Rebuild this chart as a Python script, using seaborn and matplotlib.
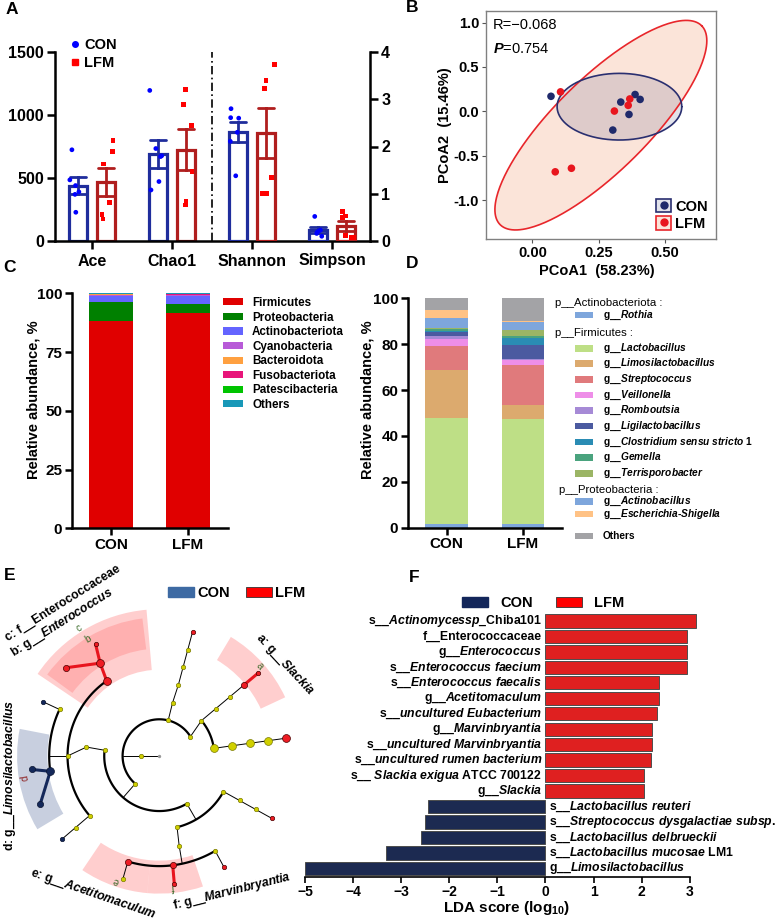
import numpy as np
import pandas as pd
import matplotlib
matplotlib.use('Agg')
import matplotlib.pyplot as plt
import seaborn as sns
from matplotlib.patches import Patch, Rectangle
from matplotlib.lines import Line2D

# ---------------- data ----------------
groups = ['CON', 'LFM']

# A: alpha diversity, six animals per group
alpha_index = ['Ace', 'Chao1', 'Shannon', 'Simpson']
ace_con = [724, 485, 440, 390, 370, 228]
ace_lfm = [795, 710, 612, 305, 212, 175]
chao1_con = [1195, 734, 676, 670, 472, 405]
chao1_lfm = [1200, 1081, 914, 551, 318, 286]
shannon_con = [2.80, 2.61, 2.60, 2.30, 2.11, 1.38]
shannon_lfm = [3.73, 3.39, 3.22, 1.35, 1.01, 1.01]
simpson_con = [0.52, 0.23, 0.21, 0.19, 0.16, 0.10]
simpson_lfm = [0.62, 0.53, 0.50, 0.12, 0.08, 0.07]

# B: PCoA
pc1_con = [0.070, 0.333, 0.387, 0.406, 0.364, 0.303]
pc2_con = [0.170, 0.105, 0.190, 0.135, -0.034, -0.210]
pc1_lfm = [0.106, 0.367, 0.361, 0.309, 0.086, 0.147]
pc2_lfm = [0.220, 0.140, 0.068, 0.004, -0.680, -0.640]
# confidence ellipses: centre, semi-axis vector 1, semi-axis vector 2
ell_con = [(0.328, 0.053), (0.235, 0.0), (0.0, 0.375)]
ell_lfm = [(0.258, -0.155), (0.380, 1.119), (-0.123, 0.372)]
pcoa_r = '\u22120.068'
pcoa_p = '0.754'

# C: phylum level
phyla = ['Firmicutes', 'Proteobacteria', 'Actinobacteriota', 'Cyanobacteria',
         'Bacteroidota', 'Fusobacteriota', 'Patescibacteria', 'Others']
phyla_con = [88.3, 8.0, 2.6, 0.5, 0.2, 0.2, 0.1, 0.1]
phyla_lfm = [91.5, 3.8, 3.55, 0.4, 0.2, 0.1, 0.35, 0.1]
phyla_colors = ['#e00000', '#008000', '#6464ff', '#b85ad8', '#ffa040',
                '#e8157a', '#00c400', '#1898b8']

# D: genus level
genera = ['Rothia', 'Lactobacillus', 'Limosilactobacillus', 'Streptococcus',
          'Veillonella', 'Romboutsia', 'Ligilactobacillus',
          'Clostridium sensu stricto 1', 'Gemella', 'Terrisporobacter',
          'Actinobacillus', 'Escherichia-Shigella', 'Others']
genera_con = [1.6, 46.4, 20.8, 10.5, 2.8, 1.3, 1.7, 0.8, 0.7, 0.3, 4.5, 3.6, 5.0]
genera_lfm = [1.5, 45.9, 6.1, 17.4, 2.3, 0.3, 6.1, 3.3, 0.7, 2.5, 3.6, 0.3, 10.0]
genera_colors = ['#7ea6dc', '#bedf86', '#dcaa6e', '#e07a7c', '#ee8ee8', '#a68ad6',
                 '#4b5aa0', '#2a8cb4', '#4aa37e', '#9bb565', '#7ea6dc', '#ffc285',
                 '#a3a3a6']
genera_phylum = ['p__Actinobacteriota :', 'p__Firmicutes :', 'p__Proteobacteria :']

# E: cladogram, nodes as (angle deg, ring, colour, size)
clado_nodes = [
    (180, 1, 'y', 's'),
    (76, 2, 'y', 's'), (76, 3, 'y', 's'), (75, 4, 'y', 's'), (75, 5, 'y', 's'),
    (75, 6, 'y', 's'), (75, 7, 'r', 's'),
    (32, 2, 'y', 's'), (40, 3, 'y', 's'), (40, 4, 'y', 's'), (40, 5, 'y', 's'),
    (40, 6, 'r', 'm'), (40, 7, 'r', 's'),
    (8, 3, 'y', 'l'), (8, 4, 'y', 'l'), (8, 5, 'y', 'l'), (8, 6, 'y', 'l'), (8, 7, 'r', 'l'),
    (229, 2, 'y', 's'), (174, 3, 'y', 's'), (173, 4, 'y', 's'), (180, 5, 'y', 's'),
    (125, 5, 'r', 'l'), (122.5, 6, 'r', 'l'), (119.7, 7, 'r', 's'), (136.6, 7, 'r', 'm'),
    (155, 6, 'y', 's'), (155, 7, 'n', 's'),
    (188, 6, 'n', 'l'), (186, 7, 'n', 'm'), (202, 7, 'n', 'm'),
    (220.5, 5, 'y', 's'), (220.5, 6, 'y', 's'), (220.5, 7, 'n', 's'),
    (300, 3, 'y', 's'), (284, 4, 'y', 's'), (282.5, 5, 'y', 's'),
    (253.4, 6, 'r', 'm'), (277, 6, 'r', 'm'), (300.5, 6, 'y', 's'),
    (253.5, 7, 'y', 's'), (276.7, 7, 'r', 's'), (300.2, 7, 'r', 's'),
    (331, 4, 'y', 's'), (331, 5, 'y', 's'), (331, 6, 'y', 's'), (331, 7, 'r', 's'),
]
clado_links = [
    (180, 0, 180, 1, 'k'), (180, 1, 180, 2, 'k'),
    (76, 2, 76, 3, 'k'), (76, 3, 75, 4, 'k'), (75, 4, 75, 5, 'k'), (75, 5, 75, 6, 'k'),
    (75, 6, 75, 7, 'k'),
    (32, 2, 40, 3, 'k'), (40, 3, 40, 4, 'k'), (40, 4, 40, 5, 'k'), (40, 5, 40, 6, 'k'),
    (40, 6, 40, 7, 'r'),
    (8, 3, 8, 4, 'k'), (8, 4, 8, 5, 'k'), (8, 5, 8, 6, 'k'), (8, 6, 8, 7, 'k'),
    (229, 2, 229, 3, 'k'), (174, 3, 173, 4, 'k'), (173, 4, 180, 5, 'k'), (180, 5, 180, 6, 'k'),
    (125, 5, 122.5, 6, 'r'), (122.5, 6, 119.7, 7, 'r'), (122.5, 6, 136.6, 7, 'r'),
    (155, 6, 155, 7, 'k'), (188, 6, 186, 7, 'n'), (188, 6, 202, 7, 'n'),
    (220.5, 5, 220.5, 6, 'k'), (220.5, 6, 220.5, 7, 'k'),
    (300, 3, 300, 4, 'k'), (284, 4, 282.5, 5, 'k'), (282.5, 5, 282, 6, 'k'),
    (253.4, 6, 253.5, 7, 'k'), (277, 6, 276.7, 7, 'r'), (300.5, 6, 300.2, 7, 'k'),
    (331, 4, 331, 5, 'k'), (331, 5, 331, 6, 'k'), (331, 6, 331, 7, 'k'),
]
clado_arcs = [(2, 32, 229), (3, 8, 40), (3, 174, 300), (4, 284, 331),
              (5, 125, 220.5), (6, 155, 188), (6, 253.4, 300.5)]
# highlighted clades: letter, start angle, end angle, inner ring, outer ring, group
clado_clades = [
    ('c', 95, 146, 4.7, 8.0, 'LFM'),
    ('b', 97, 144, 5.85, 7.55, 'LFM'),
    ('a', 25, 59, 6.1, 7.57, 'LFM'),
    ('d', 169, 211, 6.1, 7.75, 'CON'),
    ('e', 236, 265, 5.7, 7.5, 'LFM'),
    ('f', 265, 288.5, 5.7, 7.5, 'LFM'),
]
clado_letters = [('a', 41.8, 7.36, -48, '#3b6b2a'), ('b', 121.2, 7.45, 32, '#3b6b2a'),
                 ('c', 122, 8.2, 32, '#3b6b2a'), ('d', 189.4, 7.4, 100, '#8b1a1a'),
                 ('e', 250.9, 7.2, 160, '#3b6b2a'), ('f', 276, 7.16, 186, '#3b6b2a')]
clado_names = ['c: f__Enterococcaceae', r'b: g__$\it{Enterococcus}$', r'a: g__$\it{Slackia}$',
               r'd: g__$\it{Limosilactobacillus}$', r'e: g__$\it{Acetitomaculum}$',
               r'f: g__$\it{Marvinbryantia}$']

# F: LEfSe LDA scores
lda_taxa = [r's__$\it{Actinomycessp}$_Chiba101', 'f__Enterococcaceae',
            r'g__$\it{Enterococcus}$', r's__$\it{Enterococcus\ faecium}$',
            r's__$\it{Enterococcus\ faecalis}$', r'g__$\it{Acetitomaculum}$',
            r's__$\it{uncultured\ Eubacterium}$', r'g__$\it{Marvinbryantia}$',
            r's__$\it{uncultured\ Marvinbryantia}$', r's__$\it{uncultured\ rumen\ bacterium}$',
            r's__ $\it{Slackia\ exigua}$ ATCC 700122', r'g__$\it{Slackia}$',
            r's__$\it{Lactobacillus\ reuteri}$', r's__$\it{Streptococcus\ dysgalactiae\ subsp.}$',
            r's__$\it{Lactobacillus\ delbrueckii}$', r's__$\it{Lactobacillus\ mucosae}$ LM1',
            r'g__$\it{Limosilactobacillus}$']
lda_scores = [3.13, 2.95, 2.95, 2.94, 2.35, 2.35, 2.31, 2.22, 2.22, 2.19, 2.05, 2.05,
              -2.44, -2.51, -2.59, -3.32, -5.0]
lda_groups = ['LFM'] * 12 + ['CON'] * 5

# ---------------- style ----------------
sns.set_style('ticks')
plt.rcParams['font.family'] = ['Liberation Sans', 'DejaVu Sans']
plt.rcParams['font.weight'] = 'bold'
plt.rcParams['axes.labelweight'] = 'bold'
plt.rcParams['mathtext.fontset'] = 'custom'
plt.rcParams['mathtext.rm'] = 'Liberation Sans:bold'
plt.rcParams['mathtext.it'] = 'Liberation Sans:italic:bold'
plt.rcParams['mathtext.bf'] = 'Liberation Sans:bold'
for k in ['axes.edgecolor', 'xtick.color', 'ytick.color', 'text.color', 'axes.labelcolor']:
    plt.rcParams[k] = 'black'

W, H = 777, 923
fig = plt.figure(figsize=(W / 100, H / 100), dpi=100)


def box(l, t, r, b):
    return [l / W, 1 - b / H, (r - l) / W, (b - t) / H]


def fpt(x, y):
    return (x / W, 1 - y / H)


def ftext(x, y, s, **kw):
    kw.setdefault('ha', 'center')
    kw.setdefault('va', 'center')
    fig.text(x / W, 1 - y / H, s, **kw)


for letter, x, y in [('A', 12, 9), ('B', 412, 8), ('C', 10, 268), ('D', 412, 264),
                     ('E', 10, 575), ('F', 414, 577)]:
    ftext(x, y, letter, fontsize=12.5)

# ---------------- A ----------------
bar_pal = {'CON': '#1f2d9c', 'LFM': '#b01e1e'}
dot_pal = {'CON': '#0000ff', 'LFM': '#ff0000'}
alpha_df = pd.DataFrame({
    'index': np.repeat(alpha_index, 12),
    'group': np.tile(np.repeat(groups, 6), 4),
    'value': ace_con + ace_lfm + chao1_con + chao1_lfm + shannon_con + shannon_lfm
    + simpson_con + simpson_lfm,
})
axA = fig.add_axes(box(55, 52, 370, 241))
axA2 = axA.twinx()
np.random.seed(11)
for ax, idx in [(axA, ['Ace', 'Chao1']), (axA2, ['Shannon', 'Simpson'])]:
    sub = alpha_df[alpha_df['index'].isin(idx)]
    sns.barplot(data=sub, x='index', y='value', hue='group', order=alpha_index,
                hue_order=groups, palette=bar_pal, fill=False, width=0.7, gap=0.36,
                errorbar='se', capsize=0.42, linewidth=2.3,
                err_kws={'linewidth': 2.0}, legend=False, ax=ax)
    for g, m in zip(groups, ['o', 's']):
        sns.stripplot(data=sub[sub['group'] == g], x='index', y='value', hue='group',
                      order=alpha_index, hue_order=groups, palette=dot_pal, dodge=True,
                      jitter=0.16, marker=m, size=3.4, linewidth=0, legend=False, ax=ax)
    ax.set_xlabel('')
    ax.set_ylabel('')
axA.set_xlim(-0.4625, 3.475)
axA.set_ylim(0, 1500)
axA.set_yticks([0, 500, 1000, 1500])
axA2.set_ylim(0, 4)
axA2.set_yticks(range(5))
axA.set_xticks(range(4))
axA.set_xticklabels(alpha_index)
axA.axvline(1.5, color='black', ls=(0, (5, 2, 1, 2)), lw=1.2)
for sp in ['top', 'right']:
    axA.spines[sp].set_visible(False)
for sp in ['top', 'left', 'bottom']:
    axA2.spines[sp].set_visible(False)
for sp in ['left', 'bottom']:
    axA.spines[sp].set_linewidth(1.8)
axA2.spines['right'].set_linewidth(1.8)
axA.tick_params(axis='y', width=1.8, length=6, labelsize=11.5, pad=2)
axA.tick_params(axis='x', width=1.8, length=6, labelsize=11.5, pad=3)
axA2.tick_params(width=1.8, length=6, labelsize=11.5, pad=2)
axA.legend(handles=[Line2D([], [], marker='o', ls='', color=dot_pal['CON'], ms=4, label='CON'),
                    Line2D([], [], marker='s', ls='', color=dot_pal['LFM'], ms=4, label='LFM')],
           loc='upper left', bbox_to_anchor=fpt(71, 38), bbox_transform=fig.transFigure,
           frameon=False, handlelength=0.6, handletextpad=0.3, labelspacing=0.25,
           fontsize=10.5, borderpad=0, borderaxespad=0)

# ---------------- B ----------------
pt_B = {'CON': '#1f2a6b', 'LFM': '#e8161e'}
ell_fill = {'CON': (0.12, 0.16, 0.42, 0.13), 'LFM': (0.96, 0.65, 0.51, 0.30)}
ell_edge = {'CON': '#2a2f70', 'LFM': '#e8262b'}
pcoa = pd.DataFrame({'PCoA1': pc1_con + pc1_lfm, 'PCoA2': pc2_con + pc2_lfm,
                     'group': ['CON'] * 6 + ['LFM'] * 6})
axB = fig.add_axes(box(486, 11, 716, 239))
t = np.linspace(0, 2 * np.pi, 300)
for g, ell in [('LFM', ell_lfm), ('CON', ell_con)]:
    (cx, cy), (ax_, ay_), (bx_, by_) = ell
    ex = cx + ax_ * np.cos(t) + bx_ * np.sin(t)
    ey = cy + ay_ * np.cos(t) + by_ * np.sin(t)
    axB.fill(ex, ey, color=ell_fill[g], lw=0, zorder=1)
    axB.plot(ex, ey, color=ell_edge[g], lw=1.2, zorder=2)
sns.scatterplot(data=pcoa, x='PCoA1', y='PCoA2', hue='group', palette=pt_B, s=30,
                edgecolor='none', legend=False, zorder=3, ax=axB)
axB.set_xlim(-0.175, 0.692)
axB.set_ylim(-1.436, 1.13)
axB.set_xticks([0, 0.25, 0.5])
axB.set_xticklabels(['0.00', '0.25', '0.50'])
axB.set_yticks([-1, -0.5, 0, 0.5, 1])
axB.set_yticklabels(['-1.0', '-0.5', '0.0', '0.5', '1.0'])
axB.set_xlabel('')
axB.set_ylabel('')
for sp in axB.spines.values():
    sp.set_color('#808080')
    sp.set_linewidth(1.0)
axB.tick_params(color='#555555', length=3, width=0.8, labelsize=10.5, pad=2)
axB.text(-0.148, 0.976, 'R=' + pcoa_r, fontsize=10.5, fontweight='normal', va='center')
axB.text(-0.148, 0.70, r'$\it{P}$=' + pcoa_p, fontsize=10.5, fontweight='normal', va='center')
hB = [(Patch(facecolor=ell_fill[g], edgecolor=ell_edge[g], lw=1.2),
       Line2D([], [], marker='o', ls='', color=pt_B[g], ms=5)) for g in groups]
axB.legend(hB, groups, loc='lower right', frameon=False, handlelength=1.0, handleheight=1.0,
           handletextpad=0.3, labelspacing=0.2, fontsize=10.5, borderaxespad=0.15)
ftext(597, 271, 'PCoA1  (58.23%)', fontsize=10.5)
ftext(445, 125, 'PCoA2  (15.46%)', fontsize=10.5, rotation=90)

# ---------------- C ----------------
axC = fig.add_axes(box(72, 293.3, 228, 528.3))
bottom = np.zeros(2)
for name, c_con, c_lfm, col in zip(phyla, phyla_con, phyla_lfm, phyla_colors):
    vals = np.array([c_con, c_lfm])
    axC.bar(groups, vals, bottom=bottom, width=0.57, color=col, lw=0, label=name)
    bottom += vals
axC.set_xlim(-0.506, 1.52)
axC.set_ylim(0, 100)
axC.set_yticks([0, 25, 50, 75, 100])
sns.despine(ax=axC)
for sp in ['left', 'bottom']:
    axC.spines[sp].set_linewidth(1.8)
axC.tick_params(width=1.8, length=5, labelsize=11, pad=2)
axC.legend(loc='upper left', bbox_to_anchor=fpt(223, 297), bbox_transform=fig.transFigure,
           frameon=False, fontsize=8.4, handlelength=1.7, handleheight=0.55,
           handletextpad=0.8, labelspacing=0.22, borderpad=0, borderaxespad=0)
ftext(34, 400, 'Relative abundance, %', fontsize=10.5, rotation=90)

# ---------------- D ----------------
axD = fig.add_axes(box(408, 298.3, 562, 527.7))
bottom = np.zeros(2)
for name, g_con, g_lfm, col in zip(genera, genera_con, genera_lfm, genera_colors):
    vals = np.array([g_con, g_lfm])
    axD.bar(groups, vals, bottom=bottom, width=0.56, color=col, lw=0)
    bottom += vals
axD.set_xlim(-0.507, 1.51)
axD.set_ylim(0, 100)
axD.set_yticks(range(0, 101, 20))
sns.despine(ax=axD)
for sp in ['left', 'bottom']:
    axD.spines[sp].set_linewidth(1.8)
axD.tick_params(width=1.8, length=5, labelsize=11, pad=2)
ftext(368, 400, 'Relative abundance, %', fontsize=10.5, rotation=90)

axDL = fig.add_axes(box(548, 292, 777, 548))
axDL.set_xlim(548, 777)
axDL.set_ylim(548, 292)
axDL.axis('off')
head_rows = [(303, 555), (333.3, 555), (490, 559)]
item_rows = [315, 348.3, 363.5, 379.5, 395, 410.5, 426, 442, 457.5, 473.3, 501.5, 514, 536]
for name, (y, x) in zip(genera_phylum, head_rows):
    axDL.text(x, y, name, fontsize=8.2, fontweight='normal', va='center',
              family=['Liberation Sans Narrow', 'Liberation Sans'])
for name, col, y in zip(genera, genera_colors, item_rows):
    axDL.add_patch(Rectangle((575, y - 3.2), 18, 6.4, color=col, lw=0))
    if name == 'Others':
        lab = name
    elif '-' in name:
        a, b = name.split('-')
        lab = r'g__$\it{' + a + '}$-$\it{' + b + '}$'
    else:
        lab = r'g__$\it{' + name.replace(' ', r'\ ') + '}$'
    axDL.text(603, y, lab, fontsize=7.3, va='center')

# ---------------- E ----------------
ring_px = 18.35
cxE, cyE, RE = 159.3, 756, 150
axE = fig.add_axes(box(cxE - RE, cyE - RE, cxE + RE, cyE + RE), projection='polar')
axE.set_ylim(0, RE / ring_px)
axE.set_axis_off()
clade_col = {'LFM': ('#ff8080', 0.38), 'CON': ('#8c9cbd', 0.48)}
for letter, a0, a1, r0, r1, g in clado_clades:
    col, al = clade_col[g]
    axE.bar(np.deg2rad((a0 + a1) / 2), r1 - r0, width=np.deg2rad(a1 - a0), bottom=r0,
            color=col, alpha=al, lw=0, zorder=0)
for lvl, a0, a1 in clado_arcs:
    th = np.deg2rad(np.linspace(a0, a1, 80))
    axE.plot(th, np.full_like(th, lvl), color='black', lw=1.6, zorder=2)
link_style = {'k': ('black', 0.7), 'r': ('#e8141e', 2.2), 'n': ('#14285a', 2.2)}
for a1, l1, a2, l2, c in clado_links:
    col, lw = link_style[c]
    axE.plot(np.deg2rad([a1, a2]), [l1, l2], color=col, lw=lw, zorder=2 if c == 'k' else 2.5)
node_col = {'y': ('#d0d000', '#7a7a00'), 'r': ('#ee1c24', '#4a0000'), 'n': ('#14285a', '#0a1430')}
node_size = {'s': 10, 'm': 20, 'l': 32}
for ang, lvl, c, s in clado_nodes:
    fc, ec = node_col[c]
    axE.scatter(np.deg2rad(ang), lvl, s=node_size[s], color=fc, edgecolors=ec,
                linewidths=0.5, zorder=3)
axE.scatter([0], [0], s=2, color='#999999', zorder=3)
for letter, ang, r, rot, col in clado_letters:
    axE.text(np.deg2rad(ang), r, letter, fontsize=7, fontweight='normal', color=col,
             rotation=rot, ha='center', va='center')
for name, (x, y, rot) in zip(clado_names, [(63, 603, 32), (62.5, 623, 32), (285, 665, -47),
                                           (10, 775, 90), (93, 894, -19), (232, 892, 14)]):
    ftext(x, y, name, fontsize=8.8, rotation=rot, rotation_mode='anchor')
fig.legend(handles=[Patch(color='#3d6aa3'), Patch(facecolor='#ff0000', edgecolor='#333333', lw=0.6)],
           labels=groups, loc='center left', bbox_to_anchor=fpt(168, 593), ncol=2,
           frameon=False, fontsize=10.5, handlelength=1.8, handleheight=0.7,
           columnspacing=1.1, handletextpad=0.2, borderpad=0, borderaxespad=0)

# ---------------- F ----------------
lda_pal = {'CON': '#13265a', 'LFM': '#ff0000'}
lda_df = pd.DataFrame({'taxon': lda_taxa, 'lda': lda_scores, 'group': lda_groups})
axF = fig.add_axes(box(304, 612, 699.4, 876.7))
sns.barplot(data=lda_df, x='lda', y='taxon', hue='group', hue_order=groups, palette=lda_pal,
            dodge=False, width=0.86, orient='h', edgecolor='#4d4d4d', linewidth=0.7,
            legend=False, ax=axF)
axF.set_ylim(16.54, -0.58)
axF.set_xlim(-5.02, 3.2)
axF.set_yticks([])
axF.set_ylabel('')
axF.set_xlabel('')
axF.set_xticks(range(-5, 4))
for sp in ['left', 'top', 'right']:
    axF.spines[sp].set_visible(False)
axF.spines['bottom'].set_bounds(-5, 3)
axF.spines['bottom'].set_linewidth(1.2)
axF.tick_params(axis='x', width=1.2, length=4, labelsize=10, pad=2)
for i, (lab, v) in enumerate(zip(lda_taxa, lda_scores)):
    if v > 0:
        axF.text(-0.07, i, lab, ha='right', va='center', fontsize=8.8)
    else:
        axF.text(0.07, i, lab, ha='left', va='center', fontsize=8.8)
ftext(507, 908, r'LDA score (log$_{\mathrm{10}}$)', fontsize=11)
fig.legend(handles=[Patch(color=lda_pal['CON']),
                    Patch(facecolor=lda_pal['LFM'], edgecolor='#333333', lw=0.6)],
           labels=groups, loc='center left', bbox_to_anchor=fpt(462, 603), ncol=2,
           frameon=False, fontsize=10.5, handlelength=1.8, handleheight=0.7,
           columnspacing=1.6, handletextpad=0.8, borderpad=0, borderaxespad=0)

fig.savefig('out.png', dpi=100)
